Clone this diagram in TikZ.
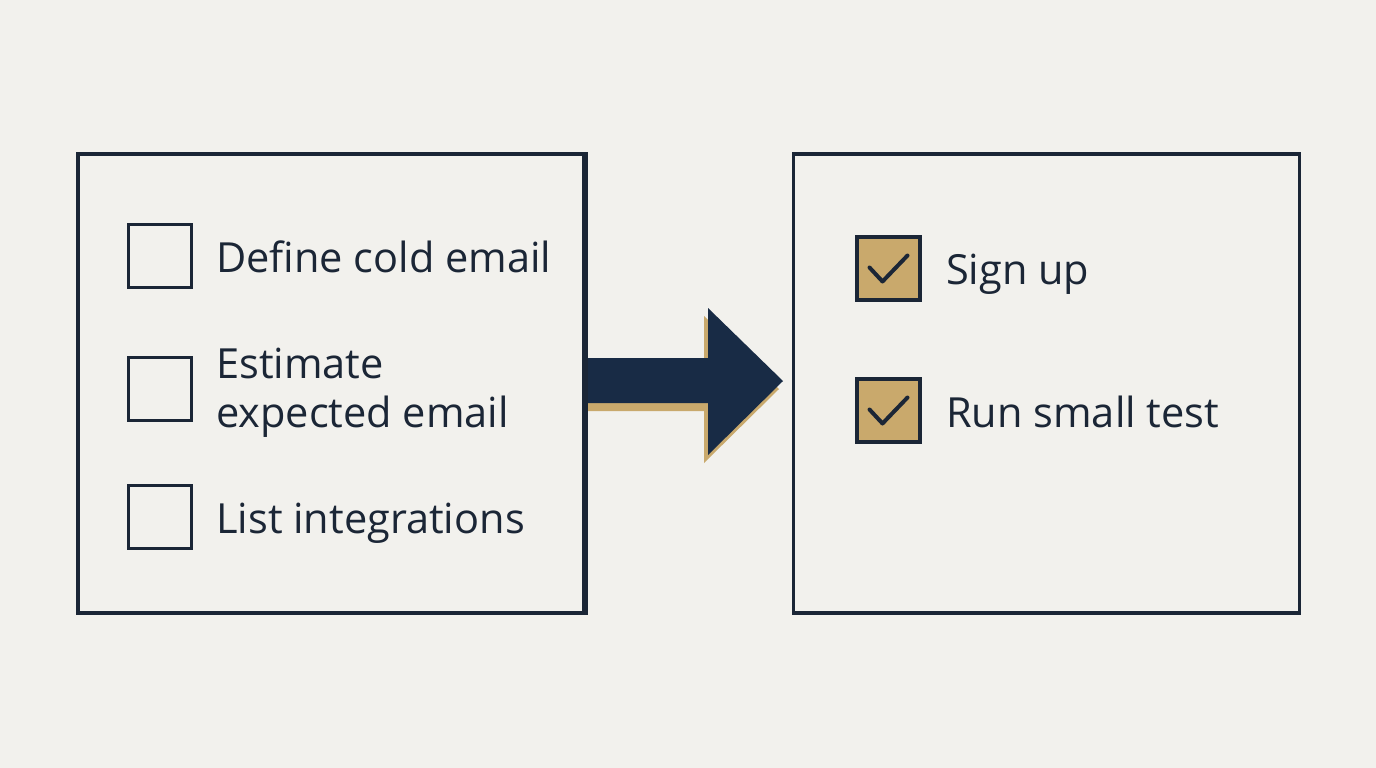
\documentclass[tikz,border=0pt]{standalone}
\usepackage{fontspec}
\setmainfont{Open Sans}
\definecolor{bg}{HTML}{F2F1ED}
\definecolor{ink}{HTML}{1B2636}
\definecolor{navy}{HTML}{182B45}
\definecolor{tan}{HTML}{C9A96C}
\tikzset{
  panel/.style={draw=ink, line width=3.5pt, minimum width=506pt, minimum height=459pt, inner sep=0pt},
  cbox/.style={draw=ink, line width=3.5pt, minimum size=63pt, inner sep=0pt},
  donebox/.style={cbox, fill=tan, line width=4pt},
  lbl/.style={anchor=base west, text=ink, font=\fontsize{41.5}{49}\selectfont, inner sep=0pt, align=left},
  tick/.style={draw=ink, line width=4pt, line cap=round, line join=round}
}
\begin{document}
\begin{tikzpicture}[x=1pt,y=-1pt]
\useasboundingbox[fill=bg] (0,0) rectangle (1376,768);
\node[panel] (left) at (331,383.5) {};
\node[panel] (right) at (1046.5,383.5) {};
% left checklist
\node[cbox] (c1) at (160,256) {};
\node[cbox] (c2) at (160,389) {};
\node[cbox] (c3) at (160,517) {};
\node[lbl] (t1) at (216,272) {Define cold email};
\node[lbl] (t2) at (216,427) {Estimate\\expected email};
\node[lbl] (t3) at (216,533) {List integrations};
% right checklist
\node[donebox] (d1) at (888.5,268.5) {};
\node[donebox] (d2) at (888.5,410.5) {};
\draw[tick] ([shift={(-19,-1)}]d1.center) -- ([shift={(-6,13)}]d1.center) -- ([shift={(19,-13)}]d1.center);
\draw[tick] ([shift={(-19,-1)}]d2.center) -- ([shift={(-6,13)}]d2.center) -- ([shift={(19,-13)}]d2.center);
\node[lbl] (t4) at (946,284) {Sign up};
\node[lbl] (t5) at (946,427) {Run small test};
% block arrow
\path (left.east) ++(0,-25.5) coordinate (a0);
\path (left.east) ++(0,19.5) coordinate (a1);
\coordinate (tip) at (783,381);
\fill[tan] ([shift={(0,8)}]a0) -- (704,366) -- (704,316) -- (779,389) -- (704,463) -- (704,411) -- ([shift={(0,8)}]a1) -- cycle;
\fill[navy] (a0) -- (708,358) -- (708,308) -- (tip) -- (708,455) -- (708,403) -- (a1) -- cycle;
\draw[ink, line width=3.5pt] (left.north east) -- (left.south east);
\end{tikzpicture}
\end{document}
